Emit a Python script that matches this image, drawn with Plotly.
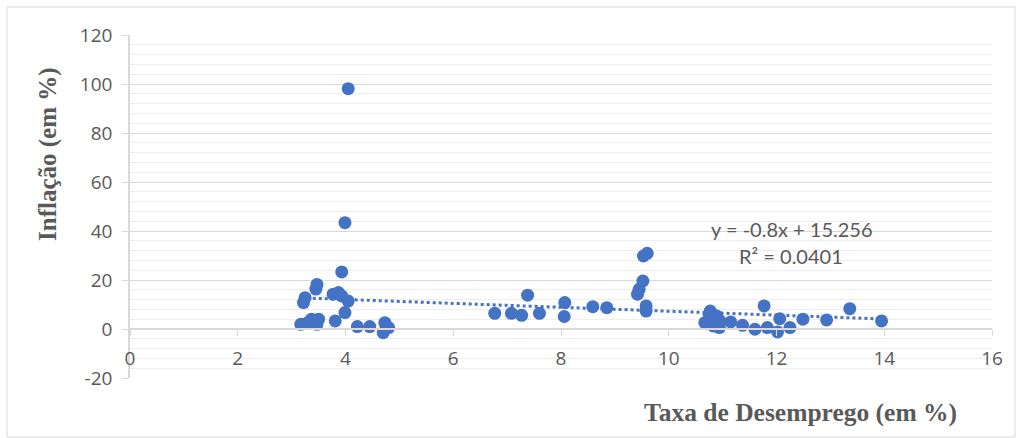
import plotly.graph_objects as go

# Data: unemployment rate (x) vs inflation (y)
desemprego = [3.17, 3.25, 3.22, 3.37, 3.30, 3.45, 3.50, 3.47, 3.45, 3.47, 3.77, 3.87, 3.93,
              4.05, 3.81, 3.99, 3.93, 3.99, 4.05, 4.22, 4.45, 4.73, 4.70, 4.80,
              6.77, 7.08, 7.27, 7.38, 7.60, 8.07, 8.06, 8.59, 8.85,
              9.42, 9.45, 9.52, 9.53, 9.60, 9.58, 9.58,
              10.67, 10.75, 10.77, 10.80, 10.83, 10.89, 10.95, 10.94, 11.15, 11.37,
              11.60, 11.77, 11.83, 12.02, 12.06, 12.25, 12.49, 12.93, 13.36, 13.95]
inflacao = [1.9, 12.8, 10.8, 4.0, 2.6, 3.0, 4.0, 1.9, 16.3, 18.2, 14.2, 14.9, 13.5,
            11.4, 3.3, 6.7, 23.3, 43.4, 98.1, 1.0, 1.0, 2.6, -1.5, 0.6,
            6.4, 6.4, 5.6, 13.8, 6.4, 10.8, 5.1, 9.1, 8.7,
            14.2, 16.2, 19.6, 29.8, 30.9, 9.4, 7.3,
            2.6, 6.0, 7.3, 2.6, 1.2, 5.3, 3.3, 0.6, 2.9, 1.5,
            -0.1, 9.4, 0.6, -1.2, 4.2, 0.6, 4.0, 3.7, 8.3, 3.3]

trend_slope = -0.8
trend_intercept = 15.256
r2 = 0.0401

x_ticks = [0, 2, 4, 6, 8, 10, 12, 14, 16]
y_ticks = [-20, 0, 20, 40, 60, 80, 100, 120]
y_tick_text = [str(v) for v in y_ticks]

blue = "#4472C4"
gray_text = "#595959"
tick_font = dict(family="Open Sans, Lato, sans-serif", size=19, color=gray_text)
serif = "Liberation Serif, Times New Roman, serif"

x0, x1 = min(desemprego), max(desemprego)
trend_x = [x0, x1]
trend_y = [trend_slope * v + trend_intercept for v in trend_x]

fig = go.Figure()
fig.add_trace(go.Scatter(x=trend_x, y=trend_y, mode="lines",
                         line=dict(color=blue, width=3, dash="dot"),
                         hoverinfo="skip", showlegend=False))
fig.add_trace(go.Scatter(x=desemprego, y=inflacao, mode="markers",
                         marker=dict(color=blue, size=13, line=dict(width=0)),
                         showlegend=False))

fig.update_layout(
    width=1020, height=438,
    margin=dict(l=130, r=28, t=35, b=60),
    paper_bgcolor="white", plot_bgcolor="white",
    xaxis=dict(range=[0, 16], tickvals=x_ticks, showgrid=False, zeroline=False,
               showline=True, linecolor="#d9d9d9", linewidth=1.5,
               ticks="outside", ticklen=6, tickcolor="#d9d9d9",
               anchor="free", position=20 / 140,
               tickfont=tick_font, ticklabelstandoff=6),
    yaxis=dict(range=[-20, 120], tickvals=y_ticks, ticktext=y_tick_text,
               showgrid=True, gridcolor="#d9d9d9",
               gridwidth=1, zeroline=False, showline=True, linecolor="#d9d9d9",
               linewidth=1.5, ticks="outside", ticklen=6, tickcolor="#d9d9d9",
               tickfont=tick_font, ticklabelstandoff=6,
               minor=dict(dtick=4, tick0=0, showgrid=True, gridcolor="#eeeeee", gridwidth=1)),
    shapes=[dict(type="rect", xref="paper", yref="paper",
                 x0=(7 - 130) / 862, x1=(1015 - 130) / 862,
                 y0=(378 - 437) / 343, y1=(378 - 7) / 343,
                 line=dict(color="#d9d9d9", width=1), layer="below")],
    annotations=[
        dict(text="<b>Taxa de Desemprego (em %)</b>", xref="paper", yref="paper",
             x=(800 - 130) / 862, y=(378 - 412) / 343, showarrow=False,
             xanchor="center", yanchor="middle",
             font=dict(family=serif, size=25.5, color=gray_text)),
        dict(text="<b>Inflação (em %)</b>", xref="paper", yref="paper",
             x=(48 - 130) / 862, y=(378 - 154) / 343, showarrow=False, textangle=-90,
             xanchor="center", yanchor="middle",
             font=dict(family=serif, size=25, color=gray_text)),
        dict(text=f"y = {trend_slope}x + {trend_intercept}", x=(792 - 130) / 53.875,
             y=(329.7 - 230) / 2.45, xref="x", yref="y", showarrow=False,
             font=dict(family="Lato, Open Sans, sans-serif", size=20, color=gray_text)),
        dict(text=f"R² = {r2}", x=(791 - 130) / 53.875,
             y=(329.7 - 257) / 2.45, xref="x", yref="y", showarrow=False,
             font=dict(family="Lato, Open Sans, sans-serif", size=20, color=gray_text)),
    ],
)

fig.write_html("out.html", config={"displayModeBar": False},
               post_script="document.body.style.margin='0';document.body.style.overflow='hidden';")
